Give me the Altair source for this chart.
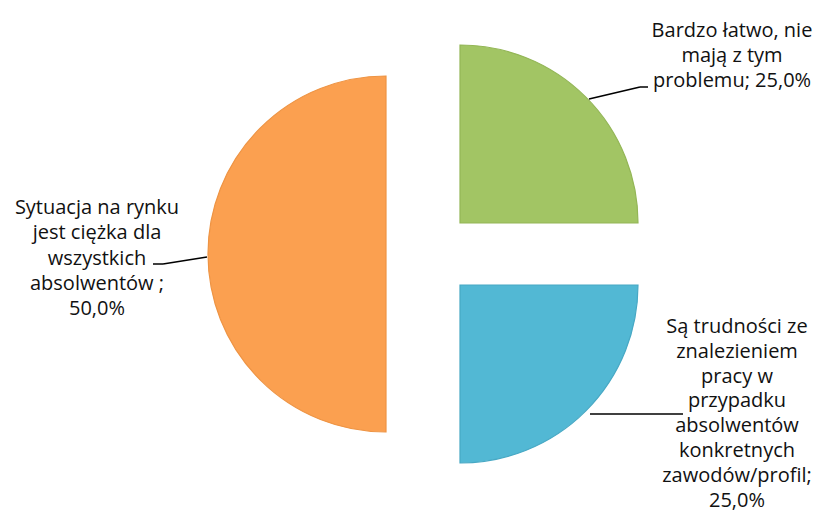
import altair as alt
import pandas as pd

# ---- data ----
categories = [
    "Bardzo łatwo, nie mają z tym problemu",
    "Są trudności ze znalezieniem pracy w przypadku absolwentów konkretnych zawodów/profil",
    "Sytuacja na rynku jest ciężka dla wszystkich absolwentów",
]
values = [25.0, 25.0, 50.0]
label_texts = [
    "Bardzo łatwo, nie\nmają z tym\nproblemu; 25,0%",
    "Są trudności ze\nznalezieniem\npracy w\nprzypadku\nabsolwentów\nkonkretnych\nzawodów/profil;\n25,0%",
    "Sytuacja na rynku\njest ciężka dla\nwszystkich\nabsolwentów ;\n50,0%",
]

# ---- styles / layout ----
colors = ["#A2C564", "#52B8D4", "#FBA050"]
strokes = ["#93B656", "#47A8C4", "#EE9444"]
W, H = 808, 504
R = 178
# exploded slice centres (plot coordinates)
centres = [(452, 215), (452, 277), (378, 246)]
label_pos = [(724, 29), (729, 325), (89, 206)]
line_heights = [25.0, 24.8, 25.3]
leaders = [
    [(581, 91), (632, 79), (640, 79)],
    [(582, 406), (675, 406)],
    [(199, 249), (155, 256), (145, 256)],
]
FONT = "Open Sans"
FS = 20

df = pd.DataFrame({"category": categories, "value": values, "label": label_texts})
base = alt.Chart(df)

color_scale = alt.Scale(domain=categories, range=colors)
stroke_scale = alt.Scale(domain=categories, range=strokes)

angles = (
    base.transform_joinaggregate(total="sum(value)")
    .transform_window(cum="sum(value)", frame=[None, 0])
    .transform_calculate(
        start="(datum.cum - datum.value) / datum.total * 2 * PI",
        end="datum.cum / datum.total * 2 * PI",
    )
)

layers = []
for i, cat in enumerate(categories):
    cx, cy = centres[i]
    arc = (
        angles.transform_filter(alt.datum.category == cat)
        .mark_arc(radius=R, strokeWidth=1.2)
        .encode(
            theta=alt.Theta("start:Q", scale=None),
            theta2=alt.Theta2("end:Q"),
            x=alt.value(cx),
            y=alt.value(cy),
            color=alt.Color("category:N", scale=color_scale, legend=None),
            stroke=alt.Stroke("category:N", scale=stroke_scale, legend=None),
        )
    )
    layers.append(arc)

    lx, ly = label_pos[i]
    txt = (
        base.transform_filter(alt.datum.category == cat)
        .mark_text(
            align="center",
            baseline="alphabetic",
            lineBreak="\n",
            font=FONT,
            fontSize=FS,
            lineHeight=line_heights[i],
            color="#111111",
        )
        .encode(x=alt.value(lx), y=alt.value(ly), text="label:N")
    )
    layers.append(txt)

    pts = leaders[i]
    for (x1, y1), (x2, y2) in zip(pts[:-1], pts[1:]):
        rule = (
            base.transform_filter(alt.datum.category == cat)
            .mark_rule(color="#000000", strokeWidth=1.5)
            .encode(x=alt.value(x1), y=alt.value(y1), x2=alt.value(x2), y2=alt.value(y2))
        )
        layers.append(rule)

chart = (
    alt.layer(*layers)
    .properties(width=W, height=H, autosize=alt.AutoSizeParams(type="none"), padding=0)
    .configure_view(stroke=None)
)

chart.save("out.html", embed_options={"renderer": "svg", "actions": False})
